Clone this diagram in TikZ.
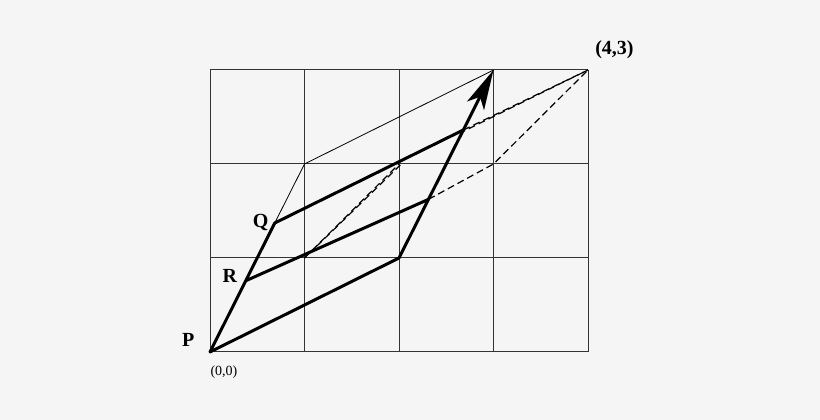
\documentclass[tikz,border=0pt]{standalone}
\usepackage{fontspec}
\setmainfont{Liberation Serif}
\usetikzlibrary{arrows.meta,calc}
\definecolor{bg}{RGB}{245,245,245}
\begin{document}
\begin{tikzpicture}[x=1pt,y=1pt,
  gridline/.style={line width=1pt,black!80},
  thickline/.style={line width=3pt,black,line cap=round,line join=round},
  thinline/.style={line width=0.8pt,black},
  dashline/.style={line width=1.2pt,black,dash pattern=on 7pt off 4pt},
  lab/.style={font=\bfseries\fontsize{20}{23}\selectfont,inner sep=0pt},
  small/.style={font=\fontsize{14}{16}\selectfont,inner sep=0pt}]
\fill[bg] (0,0) rectangle (820,420);
\useasboundingbox (0,0) rectangle (820,420);
\begin{scope}[shift={(210,68)},x=94.5pt,y=94pt]
  % grid
  \foreach \i in {0,1,2,3,4} \draw[gridline] (\i,0) -- (\i,3);
  \foreach \j in {0,1,2,3} \draw[gridline] (0,\j) -- (4,\j);
  % points
  \coordinate (P) at (0,0);
  \coordinate (R) at (0.381,0.759);
  \coordinate (Q) at (0.685,1.372);
  \coordinate (A) at (2,1);
  \coordinate (B) at (3,3);
  \coordinate (C) at (1,2);
  \coordinate (D) at (1,1);
  \coordinate (E) at (2,2);
  \coordinate (Rp) at (2.312,1.624);
  \coordinate (Qp) at (2.681,2.362);
  \coordinate (F) at (3,2);
  \coordinate (G) at (4,3);
  \coordinate (E2) at (2.015,1.99);
  \coordinate (Qp2) at (2.681,2.347);
  % thin lines
  \draw[thinline] (Q) -- (C) -- (B);
  % dashed lines
  \draw[dashline] (D) -- (E);
  \draw[dashline,dash phase=5pt] (D) -- (E2);
  \draw[dashline] (Qp) -- (G);
  \draw[dashline,dash phase=5pt] (Qp2) -- (G);
  \draw[dashline] (Rp) -- (F) -- (G);
  % thick lines
  \draw[thickline] (Q) -- (P) -- (A);
  \draw[thickline] (R) -- (Rp);
  \draw[thickline] (Q) -- (Qp);
  \draw[thickline,-{Stealth[length=40pt,width=19pt,inset=10pt]}] (A) -- (B);
  % labels
  \node[lab] (lp) at ($(P)+(-0.23,0.128)$) {P};
  \node[lab] (lr) at ($(R)+(-0.17,0.05)$) {R};
  \node[lab] (lq) at ($(Q)+(-0.15,0.005)$) {Q};
  \node[lab] (l43) at ($(G)+(0.28,0.22)$) {(4,3)};
  \node[small] (l00) at ($(P)+(0.148,-0.21)$) {(0,0)};
\end{scope}
\end{tikzpicture}
\end{document}
